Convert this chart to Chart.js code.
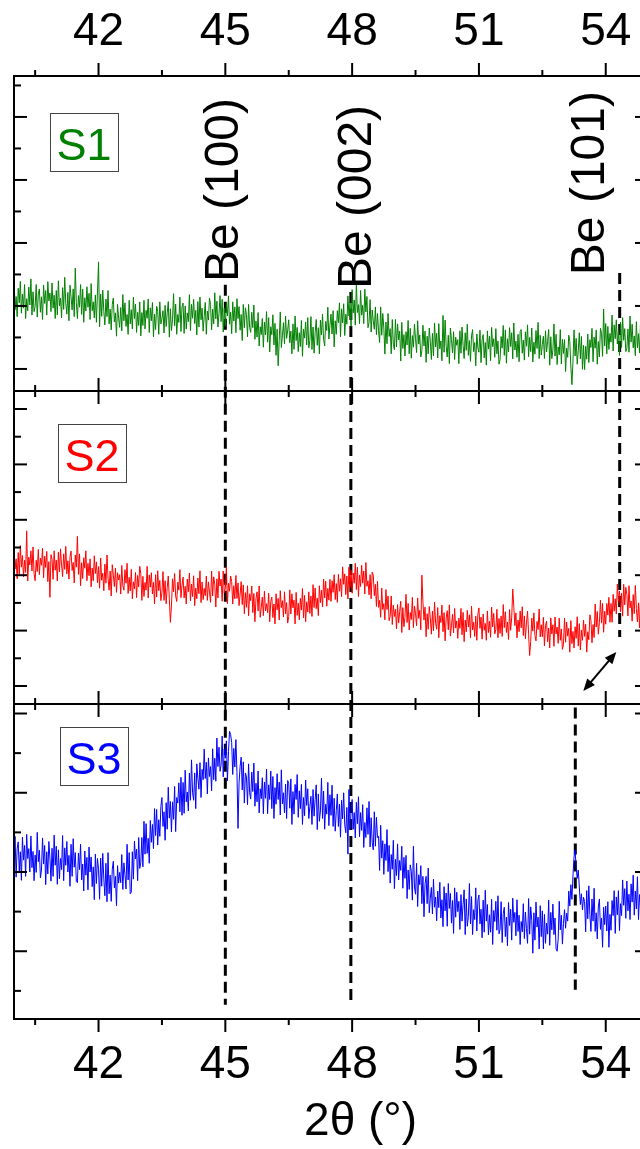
<!DOCTYPE html>
<html>
<head>
<meta charset="utf-8">
<title>XRD S1 S2 S3</title>
<script src="https://cdn.jsdelivr.net/npm/chart.js@4.4.1/dist/chart.umd.min.js"></script>
<style>
  html, body { margin: 0; padding: 0; background: #fff; overflow: hidden; }
  canvas { display: block; }
</style>
</head>
<body>
<canvas id="canvas" width="660" height="1149"></canvas>
<script>
// Scan grid: 2θ from 40.000° in 0.025° steps (600 points, 20 per row)
const scanStart = 40.0, scanStep = 0.025;

// Counts per sample (arbitrary units, one panel each)
const s1Counts = [
  300, 188, 230, 166, 256, 210, 278, 177, 238, 193, 268, 160, 223, 185, 260, 203, 286, 171, 245, 182,
  198, 268, 165, 238, 254, 180, 229, 157, 266, 208, 249, 171, 277, 216, 241, 182, 273, 193, 234, 160,
  249, 171, 280, 200, 225, 162, 258, 189, 291, 208, 174, 243, 153, 266, 229, 187, 254, 166, 320, 211,
  160, 233, 196, 268, 173, 254, 148, 226, 184, 261, 196, 240, 157, 271, 185, 213, 162, 235, 148, 244,
  340, 134, 238, 167, 250, 182, 140, 222, 166, 249, 143, 190, 124, 205, 225, 149, 178, 104, 205, 161,
  132, 195, 121, 236, 153, 210, 135, 173, 110, 218, 143, 188, 127, 228, 160, 206, 116, 180, 138, 213,
  105, 179, 138, 218, 127, 186, 161, 222, 116, 194, 153, 211, 102, 174, 125, 199, 183, 110, 213, 143,
  159, 185, 114, 202, 135, 177, 214, 101, 191, 122, 156, 239, 137, 206, 110, 173, 148, 228, 119, 197,
  209, 113, 200, 127, 178, 150, 236, 122, 205, 161, 221, 144, 186, 108, 214, 133, 228, 156, 193, 120,
  167, 211, 110, 184, 155, 225, 205, 124, 190, 143, 242, 159, 215, 133, 175, 233, 150, 221, 117, 193,
  135, 210, 168, 232, 142, 180, 112, 213, 152, 197, 115, 223, 160, 198, 123, 173, 90, 205, 131, 194,
  172, 102, 205, 132, 116, 180, 131, 203, 94, 152, 101, 179, 73, 134, 109, 160, 69, 149, 108, 182,
  85, 163, 54, 134, 109, 172, 76, 145, 43, 126, 10, 91, 181, 68, 105, 147, 80, 168, 97, 123,
  156, 83, 120, 48, 143, 62, 168, 90, 132, 55, 115, 71, 154, 40, 126, 98, 149, 76, 163, 67,
  90, 166, 62, 133, 50, 115, 157, 75, 131, 48, 155, 108, 174, 93, 73, 151, 122, 196, 95, 139,
  174, 111, 185, 70, 153, 110, 185, 147, 210, 102, 191, 146, 207, 106, 174, 142, 232, 168, 210, 135,
  252, 178, 219, 139, 270, 179, 204, 143, 249, 171, 202, 144, 253, 181, 230, 131, 147, 220, 117, 187,
  152, 126, 197, 109, 176, 121, 84, 197, 107, 176, 130, 47, 149, 80, 176, 103, 128, 48, 157, 79,
  61, 157, 70, 143, 92, 120, 25, 148, 65, 109, 41, 118, 76, 154, 48, 129, 34, 106, 69, 142,
  96, 52, 153, 79, 108, 38, 58, 139, 73, 120, 21, 104, 48, 130, 88, 30, 113, 42, 146, 70,
  113, 35, 144, 64, 89, 26, 170, 53, 155, 72, 38, 107, 17, 130, 93, 51, 118, 30, 101, 75,
  93, 17, 121, 50, 133, 75, 33, 115, 59, 142, 43, 90, 24, 105, 125, 55, 84, 10, 111, 67,
  53, 123, 20, 93, 109, 35, 84, 12, 121, 63, 104, 26, 132, 71, 96, 37, 128, 48, 89, 15,
  30, 103, 66, 138, 43, 124, 18, 96, 54, 131, 71, 115, 32, 146, 60, 88, 37, 110, 23, 119,
  125, 50, 92, 28, 118, 72, 140, 39, 100, 55, 130, 22, 85, 47, 122, 65, 148, 33, 107, 44,
  78, 104, 33, 121, 54, 88, 125, 12, 102, 33, 60, 143, 41, 110, 14, 70, 45, 125, 16, 94,
  49, 93, -8, 66, 37, 107, 87, 6, -50, 25, 124, 41, 97, 15, 57, 115, 32, 103, -1, 75,
  -2, 72, 31, 111, 20, 93, 68, 129, 23, 101, 66, 124, 15, 87, 38, 129, 113, 40, 190, 73,
  144, 48, 135, 62, 113, 85, 171, 57, 140, 96, 156, 79, 121, 43, 149, 68, 163, 91, 128, 55,
  64, 127, 53, 168, 85, 142, 67, 105, 42, 150, 67, 112, 51, 152, 84, 130, 40, 104, 62, 137
];

const s2Counts = [
  495, 422, 459, 387, 482, 401, 507, 429, 471, 394, 454, 410, 560, 379, 465, 437, 488, 415, 502, 406,
  380, 454, 413, 493, 402, 461, 436, 497, 391, 469, 428, 486, 377, 449, 320, 474, 458, 385, 488, 418,
  455, 379, 483, 412, 495, 437, 395, 477, 421, 504, 405, 452, 386, 467, 487, 417, 446, 372, 473, 429,
  540, 403, 477, 362, 445, 388, 463, 425, 488, 380, 443, 398, 459, 358, 426, 380, 470, 406, 448, 373,
  431, 353, 462, 382, 407, 344, 440, 371, 473, 390, 346, 415, 325, 438, 401, 359, 426, 338, 409, 383,
  402, 332, 435, 362, 346, 420, 371, 443, 334, 392, 343, 421, 315, 376, 351, 410, 319, 399, 358, 432,
  405, 309, 396, 323, 374, 346, 432, 318, 401, 357, 409, 332, 374, 296, 402, 321, 416, 344, 381, 308,
  337, 413, 309, 380, 297, 355, 397, 315, 230, 288, 387, 340, 406, 325, 305, 375, 346, 420, 319, 363,
  393, 318, 360, 296, 386, 340, 408, 307, 368, 323, 398, 290, 353, 315, 390, 333, 416, 301, 375, 312,
  352, 326, 397, 309, 376, 339, 302, 415, 325, 394, 368, 285, 387, 318, 414, 361, 386, 306, 415, 337,
  354, 430, 297, 371, 342, 397, 377, 296, 362, 315, 399, 316, 372, 290, 332, 377, 294, 365, 261, 337,
  284, 362, 253, 333, 308, 361, 265, 334, 232, 315, 340, 271, 361, 248, 285, 321, 254, 342, 271, 297,
  265, 335, 232, 305, 321, 247, 296, 224, 333, 275, 316, 238, 344, 283, 308, 249, 340, 260, 301, 227,
  251, 347, 260, 333, 282, 310, 224, 338, 255, 299, 239, 316, 274, 352, 246, 327, 232, 304, 267, 340,
  262, 325, 251, 366, 283, 354, 279, 317, 254, 362, 301, 346, 285, 386, 318, 378, 288, 352, 310, 385,
  305, 380, 338, 402, 312, 370, 302, 403, 342, 387, 322, 430, 367, 405, 330, 397, 314, 429, 355, 418,
  335, 408, 371, 443, 348, 429, 323, 401, 359, 436, 371, 415, 332, 446, 360, 380, 329, 402, 315, 411,
  400, 326, 367, 287, 378, 284, 309, 248, 354, 276, 297, 239, 348, 276, 325, 236, 252, 325, 222, 292,
  251, 277, 206, 294, 227, 269, 306, 193, 283, 214, 248, 331, 229, 298, 202, 265, 240, 320, 211, 289,
  261, 217, 318, 244, 273, 203, 400, 304, 238, 285, 178, 261, 205, 287, 245, 187, 270, 199, 303, 227,
  205, 283, 174, 254, 229, 292, 196, 265, 163, 246, 272, 203, 293, 180, 217, 259, 192, 280, 209, 235,
  172, 245, 208, 280, 185, 266, 160, 238, 196, 273, 213, 257, 174, 288, 202, 230, 179, 252, 165, 261,
  282, 208, 249, 169, 260, 201, 226, 165, 271, 193, 234, 176, 285, 213, 262, 188, 204, 277, 174, 244,
  190, 253, 179, 294, 211, 268, 193, 231, 168, 276, 201, 246, 350, 286, 218, 264, 174, 238, 196, 271,
  210, 286, 182, 253, 170, 228, 270, 188, 110, 161, 245, 198, 264, 183, 163, 233, 204, 278, 177, 221,
  178, 248, 145, 218, 234, 160, 209, 137, 246, 188, 221, 143, 249, 188, 213, 154, 245, 165, 206, 132,
  149, 245, 158, 231, 180, 208, 122, 236, 153, 197, 137, 214, 172, 250, 144, 225, 130, 202, 165, 238,
  179, 223, 122, 196, 167, 257, 237, 156, 222, 175, 296, 213, 269, 187, 229, 310, 227, 298, 194, 270,
  223, 298, 256, 320, 230, 298, 230, 331, 270, 315, 260, 368, 305, 343, 268, 335, 252, 367, 293, 356,
  331, 253, 362, 282, 307, 234, 330, 261, 363, 280, 231, 300, 210, 323, 286, 231, 150, 210, 281, 255
];

const s3Counts = [
  320, 390, 287, 360, 376, 302, 351, 279, 388, 330, 367, 289, 395, 334, 359, 300, 391, 311, 352, 278,
  343, 299, 400, 326, 355, 285, 305, 386, 320, 367, 268, 351, 295, 377, 335, 277, 360, 289, 393, 317,
  365, 269, 356, 283, 334, 306, 392, 278, 361, 317, 377, 300, 342, 264, 370, 289, 384, 312, 349, 276,
  273, 348, 306, 370, 280, 320, 252, 353, 292, 337, 255, 363, 300, 338, 263, 313, 230, 345, 271, 334,
  307, 231, 335, 264, 347, 282, 240, 322, 225, 349, 245, 292, 226, 307, 327, 260, 289, 215, 316, 272,
  299, 273, 344, 256, 323, 294, 257, 370, 280, 349, 245, 249, 351, 282, 378, 333, 358, 278, 387, 309,
  324, 387, 313, 428, 345, 422, 347, 385, 322, 430, 375, 420, 359, 460, 392, 458, 368, 432, 390, 465,
  488, 415, 452, 380, 475, 408, 514, 436, 478, 401, 477, 433, 516, 402, 488, 474, 525, 452, 539, 443,
  526, 448, 557, 477, 502, 454, 550, 481, 583, 500, 481, 550, 460, 573, 536, 509, 576, 488, 559, 533,
  610, 536, 577, 497, 588, 541, 566, 505, 611, 533, 587, 529, 638, 566, 615, 554, 570, 643, 540, 610,
  587, 631, 530, 604, 655, 647, 627, 546, 612, 565, 634, 551, 410, 525, 567, 590, 507, 578, 474, 550,
  540, 470, 573, 500, 484, 552, 503, 575, 466, 524, 477, 555, 449, 510, 485, 538, 447, 527, 486, 560,
  447, 520, 483, 555, 460, 541, 435, 513, 471, 548, 483, 527, 444, 558, 472, 500, 449, 522, 435, 531,
  524, 461, 535, 420, 503, 446, 521, 483, 546, 438, 505, 460, 521, 420, 488, 442, 532, 468, 510, 435,
  465, 491, 420, 508, 441, 483, 520, 407, 497, 428, 454, 537, 435, 504, 408, 471, 446, 526, 417, 495,
  443, 519, 415, 486, 403, 455, 497, 415, 471, 388, 481, 434, 500, 419, 399, 463, 345, 508, 407, 451,
  483, 408, 450, 386, 476, 422, 490, 389, 450, 405, 470, 362, 425, 387, 462, 395, 478, 363, 437, 374,
  356, 452, 365, 438, 387, 390, 304, 418, 335, 379, 294, 371, 329, 407, 301, 367, 272, 344, 307, 380,
  258, 332, 291, 371, 280, 329, 304, 365, 259, 337, 284, 342, 233, 305, 256, 318, 302, 229, 365, 262,
  244, 322, 213, 293, 268, 316, 220, 289, 187, 270, 289, 220, 310, 197, 234, 261, 194, 282, 211, 237,
  177, 252, 210, 274, 184, 230, 162, 263, 202, 247, 163, 271, 208, 246, 171, 228, 145, 260, 186, 249,
  200, 226, 155, 243, 176, 218, 255, 142, 232, 163, 188, 271, 169, 238, 142, 205, 180, 260, 151, 229,
  242, 169, 206, 134, 229, 148, 254, 176, 218, 141, 192, 148, 231, 117, 203, 175, 226, 153, 240, 144,
  155, 225, 122, 195, 211, 137, 186, 114, 223, 165, 206, 128, 234, 173, 198, 139, 230, 150, 191, 117,
  175, 149, 220, 132, 199, 157, 120, 233, 143, 212, 178, 95, 197, 128, 224, 161, 186, 106, 215, 137,
  202, 106, 193, 120, 171, 143, 229, 115, 198, 154, 219, 142, 184, 106, 100, 131, 226, 154, 191, 118,
  170, 205, 158, 196, 176, 252, 214, 268, 231, 290, 338, 356, 312, 284, 305, 262, 218, 245, 204, 236,
  225, 149, 253, 182, 265, 192, 150, 232, 176, 259, 150, 197, 131, 212, 232, 155, 184, 110, 211, 167,
  214, 151, 225, 110, 193, 153, 228, 190, 253, 145, 237, 192, 253, 152, 220, 190, 280, 216, 258, 183,
  277, 202, 244, 180, 270, 224, 292, 191, 252, 207, 288, 180, 243, 205, 280, 223, 306, 191, 265, 202
];

const sampleNames = ['S1', 'S2', 'S3'];
const sampleColors = ['#008000', '#ff0000', '#0000ff'];

// 2θ axis ticks (top and bottom)
const xMajorTicks = [42, 45, 48, 51, 54];
const xMinorTicks = [40.5, 43.5, 46.5, 49.5, 52.5];

// Be reflections
const bePeaks = [45.0, 47.97, 54.33];
const beLabels = ['Be (100)', 'Be (002)', 'Be (101)'];
const s3ShiftedPeak = 53.28;

const FONT = '"Liberation Sans", Arial, sans-serif';

const toPoints = counts => counts.map((c, i) => ({ x: scanStart + i * scanStep, y: c }));

// y range of each panel, and which hundreds get the long tick
const panelAxis = [
  { id: 'y1', min: -70, max: 930, weight: 315, majorRest: 0 },
  { id: 'y2', min: -65, max: 1065, weight: 313, majorRest: 0 },
  { id: 'y3', min: -71, max: 724, weight: 315, majorRest: 100 }
];

function line(ctx, x0, y0, x1, y1) {
  ctx.beginPath();
  ctx.moveTo(x0, y0);
  ctx.lineTo(x1, y1);
  ctx.stroke();
}

function arrowHead(ctx, tipX, tipY, fromX, fromY) {
  const a = Math.atan2(tipY - fromY, tipX - fromX);
  const len = 12, half = 5;
  ctx.beginPath();
  ctx.moveTo(tipX, tipY);
  ctx.lineTo(tipX - len * Math.cos(a) + half * Math.sin(a), tipY - len * Math.sin(a) - half * Math.cos(a));
  ctx.lineTo(tipX - len * Math.cos(a) - half * Math.sin(a), tipY - len * Math.sin(a) + half * Math.cos(a));
  ctx.closePath();
  ctx.fill();
}

// Dashed peak markers, frame, ticks and labels
const xrdFrame = {
  id: 'xrdFrame',
  beforeDatasetsDraw(chart) {
    const { ctx, scales } = chart;
    const x = scales.x, y1 = scales.y1, y2 = scales.y2, y3 = scales.y3;
    ctx.save();
    ctx.strokeStyle = '#000';
    ctx.lineWidth = 3;
    ctx.setLineDash([11, 6]);

    // Be (100) and Be (002) cross all panels
    const tops = [267, 244];
    [0, 1].forEach(i => {
      const px = x.getPixelForValue(bePeaks[i]);
      line(ctx, px, y1.getPixelForValue(tops[i]), px, y3.getPixelForValue(-35));
    });
    // Be (101) for S1 and S2
    const p101 = x.getPixelForValue(bePeaks[2]);
    line(ctx, p101, y1.getPixelForValue(305), p101, y2.getPixelForValue(177));
    // shifted reflection in S3
    const pS3 = x.getPixelForValue(s3ShiftedPeak);
    line(ctx, pS3, y3.getPixelForValue(715), pS3, y3.getPixelForValue(3));
    ctx.restore();
  },
  afterDatasetsDraw(chart) {
    const { ctx, chartArea: area, scales } = chart;
    const x = scales.x;
    const ys = [scales.y1, scales.y2, scales.y3];
    ctx.save();
    ctx.setLineDash([]);
    ctx.strokeStyle = '#000';
    ctx.fillStyle = '#000';
    ctx.lineWidth = 2;

    // panel frames
    ys.forEach(s => ctx.strokeRect(area.left, s.top, area.right - area.left, s.bottom - s.top));

    // y ticks, inward on both sides
    ys.forEach((s, k) => {
      for (let v = 0; v <= s.max; v += 100) {
        const py = s.getPixelForValue(v);
        const len = (v % 200 === panelAxis[k].majorRest) ? 13 : 7;
        line(ctx, area.left, py, area.left + len, py);
        line(ctx, area.right, py, area.right - len, py);
      }
    });

    // x ticks: outward at top/bottom, across the dividers
    const hLines = [ys[0].top, ys[0].bottom, ys[1].bottom, ys[2].bottom];
    hLines.forEach((py, j) => {
      const up = j < hLines.length - 1 ? 1 : 0;
      const down = j > 0 ? 1 : 0;
      xMajorTicks.forEach(v => {
        const px = x.getPixelForValue(v);
        line(ctx, px, py - 13 * up, px, py + 13 * down);
      });
      xMinorTicks.forEach(v => {
        const px = x.getPixelForValue(v);
        line(ctx, px, py - 6 * up, px, py + 6 * down);
      });
    });

    // tick labels
    ctx.font = '46px ' + FONT;
    ctx.textAlign = 'center';
    ctx.textBaseline = 'alphabetic';
    xMajorTicks.forEach(v => {
      const px = x.getPixelForValue(v);
      ctx.fillText(String(v), px, ys[0].top - 31);
      ctx.fillText(String(v), px, ys[2].bottom + 59);
    });
    ctx.fillText('2θ (°)', x.getPixelForValue(48.2), ys[2].bottom + 116);

    // Be labels, rotated
    ctx.font = '48px ' + FONT;
    const labelBase = [45.31, 48.45, 53.96];
    const labelMid = [568, 546, 590];
    beLabels.forEach((t, i) => {
      ctx.save();
      ctx.translate(x.getPixelForValue(labelBase[i]), ys[0].getPixelForValue(labelMid[i]));
      ctx.rotate(-Math.PI / 2);
      ctx.textAlign = 'center';
      ctx.textBaseline = 'alphabetic';
      ctx.fillText(t, 0, 0);
      ctx.restore();
    });

    // sample name boxes
    const boxOffsets = [[36, 37], [44, 33], [46, 23]];
    ys.forEach((s, k) => {
      const bx = area.left + boxOffsets[k][0];
      const by = s.top + boxOffsets[k][1];
      ctx.fillStyle = '#fff';
      ctx.fillRect(bx, by, 68, 58);
      ctx.lineWidth = 1;
      ctx.strokeStyle = '#444';
      ctx.strokeRect(bx + 0.5, by + 0.5, 68, 58);
      ctx.fillStyle = sampleColors[k];
      ctx.font = '45px ' + FONT;
      ctx.textAlign = 'center';
      ctx.fillText(sampleNames[k], bx + 34, by + 47);
    });

    // double arrow next to Be (101) in S2
    const ax0 = x.getPixelForValue(53.47), ay0 = ys[1].getPixelForValue(-18);
    const ax1 = x.getPixelForValue(54.25), ay1 = ys[1].getPixelForValue(123);
    ctx.strokeStyle = '#000';
    ctx.fillStyle = '#000';
    ctx.lineWidth = 2;
    line(ctx, ax0 + (ax1 - ax0) * 0.15, ay0 + (ay1 - ay0) * 0.15, ax1 - (ax1 - ax0) * 0.15, ay1 - (ay1 - ay0) * 0.15);
    arrowHead(ctx, ax0, ay0, ax1, ay1);
    arrowHead(ctx, ax1, ay1, ax0, ay0);
    ctx.restore();
  }
};

const ctx = document.getElementById('canvas').getContext('2d');

const datasets = [s1Counts, s2Counts, s3Counts].map((counts, k) => ({
  label: sampleNames[k],
  data: toPoints(counts),
  yAxisID: panelAxis[k].id,
  borderColor: sampleColors[k],
  borderWidth: 1,
  borderJoinStyle: 'bevel',
  pointRadius: 0,
  tension: 0,
  fill: false
}));

const scales = {
  x: { type: 'linear', min: 40, max: 55, display: false }
};
panelAxis.forEach((p, k) => {
  scales[p.id] = {
    type: 'linear',
    position: 'left',
    stack: 'xrd',
    stackWeight: p.weight,
    weight: 3 - k,
    min: p.min,
    max: p.max,
    display: false
  };
});

new Chart(ctx, {
  type: 'line',
  data: { datasets },
  options: {
    responsive: false,
    animation: false,
    events: [],
    layout: { padding: { left: 14, top: 76, right: 12, bottom: 130 } },
    plugins: { legend: { display: false }, tooltip: { enabled: false } },
    scales
  },
  plugins: [xrdFrame]
});
</script>
</body>
</html>
